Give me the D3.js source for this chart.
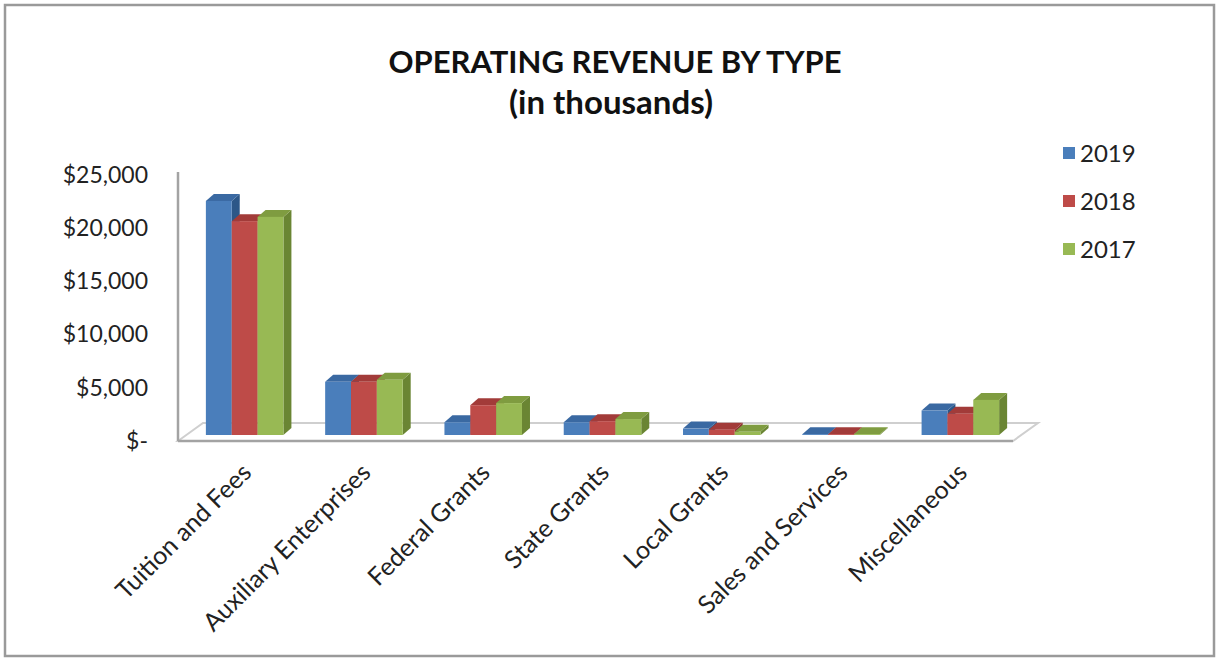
<!DOCTYPE html>
<html>
<head>
<meta charset="utf-8">
<script src="https://cdn.jsdelivr.net/npm/d3@7"></script>
<style>
  html, body { margin: 0; padding: 0; background: #fff; }
  svg text { font-family: Lato, "Open Sans", sans-serif; fill: #222; }
</style>
</head>
<body>
<svg id="chart" width="1218" height="660"></svg>
<script>
// ---- data ----
const categories = ["Tuition and Fees", "Auxiliary Enterprises", "Federal Grants", "State Grants", "Local Grants", "Sales and Services", "Miscellaneous"];
const seriesNames = ["2019", "2018", "2017"];
const values2019 = [22000, 5000, 1200, 1200, 600, 80, 2300];
const values2018 = [20100, 5000, 2800, 1300, 500, 80, 2000];
const values2017 = [20500, 5200, 3000, 1500, 300, 80, 3300];
const yTicks = [0, 5000, 10000, 15000, 20000, 25000];
const titleLines = ["OPERATING REVENUE BY TYPE", "(in thousands)"];

const seriesValues = [values2019, values2018, values2017];
const colors = {
  front: ["#4a7ebb", "#be4b48", "#98b954"],
  top:   ["#3a69a2", "#a23b39", "#7f9c40"],
  side:  ["#2c5788", "#8a3230", "#6a8533"]
};

const svg = d3.select("#chart");

// outer border
svg.append("rect").attr("x", 5).attr("y", 5).attr("width", 1209).attr("height", 651)
  .attr("fill", "#fff").attr("stroke", "#9a9a9a").attr("stroke-width", 2.5);

// title
svg.append("text").attr("x", 615).attr("y", 73).attr("text-anchor", "middle")
  .style("font-weight", "bold").style("font-size", "31px").style("fill", "#111").text(titleLines[0]);
svg.append("text").attr("x", 611).attr("y", 114).attr("text-anchor", "middle")
  .style("font-weight", "bold").style("font-size", "33px").style("fill", "#111").text(titleLines[1]);

// scales
const y = d3.scaleLinear().domain([0, 25000]).range([441, 175]);
const barLift = 6;             // bar front face sits a little behind the floor's front edge
const depthX = 8, depthY = 7;  // 3D bar depth
const x = d3.scaleBand().domain(categories).range([185, 1020]).paddingInner(0.35).paddingOuter(0.175);
const xs = d3.scaleBand().domain(seriesNames).range([0, x.bandwidth()]);

// floor
const fl = { x0: 178, x1: 1013, yF: 441, dx: 25, dy: 18 };
svg.append("path")
  .attr("d", `M${fl.x0},${fl.yF} L${fl.x0 + fl.dx},${fl.yF - fl.dy} L${fl.x1 + fl.dx},${fl.yF - fl.dy} L${fl.x1},${fl.yF} Z`)
  .attr("fill", "#fff").attr("stroke", "#cfcfcf").attr("stroke-width", 2);
svg.append("line").attr("x1", fl.x0).attr("x2", fl.x1).attr("y1", fl.yF).attr("y2", fl.yF)
  .attr("stroke", "#a3a3a3").attr("stroke-width", 2.5);

// vertical axis line
svg.append("line").attr("x1", 178).attr("x2", 178).attr("y1", 172).attr("y2", fl.yF)
  .attr("stroke", "#a3a3a3").attr("stroke-width", 2.5);

// y axis labels
const yAxis = d3.axisLeft(y).tickValues(yTicks).tickSize(0).tickPadding(0)
  .tickFormat(d => d === 0 ? "$-" : d3.format("$,")(d));
const gy = svg.append("g").attr("transform", "translate(148,0)").call(yAxis);
gy.select(".domain").remove();
gy.selectAll("text").style("font-size", "23px").style("font-family", "Lato, sans-serif").attr("fill", "#222");

// bars
const g = svg.append("g");
categories.forEach((cat, ci) => {
  seriesNames.forEach((s, si) => {
    const v = seriesValues[si][ci];
    const x0 = x(cat) + xs(s), x1 = x0 + xs.bandwidth();
    const yb = y(0) - barLift, yt = y(v) - barLift;
    g.append("path")
      .attr("d", `M${x1},${yt} L${x1 + depthX},${yt - depthY} L${x1 + depthX},${yb - depthY} L${x1},${yb} Z`)
      .attr("fill", colors.side[si]);
    g.append("path")
      .attr("d", `M${x0},${yt} L${x0 + depthX},${yt - depthY} L${x1 + depthX},${yt - depthY} L${x1},${yt} Z`)
      .attr("fill", colors.top[si]);
    g.append("rect").attr("x", x0).attr("y", yt).attr("width", xs.bandwidth()).attr("height", Math.max(0, yb - yt))
      .attr("fill", colors.front[si]);
  });
});

// x labels
svg.append("g").selectAll("text").data(categories).join("text")
  .attr("transform", d => `translate(${x(d) + x.bandwidth() / 2 + 2},${468}) rotate(-45)`)
  .attr("text-anchor", "end")
  .attr("dy", "0.35em")
  .style("font-size", "25px")
  .text(d => d);

// legend
const leg = svg.append("g");
seriesNames.forEach((s, i) => {
  const cy = 153 + i * 48;
  leg.append("rect").attr("x", 1063).attr("y", cy - 6).attr("width", 12).attr("height", 12).attr("fill", colors.front[i]);
  leg.append("text").attr("x", 1080).attr("y", cy).attr("dy", "0.36em").style("font-size", "24px").text(s);
});
</script>
</body>
</html>
